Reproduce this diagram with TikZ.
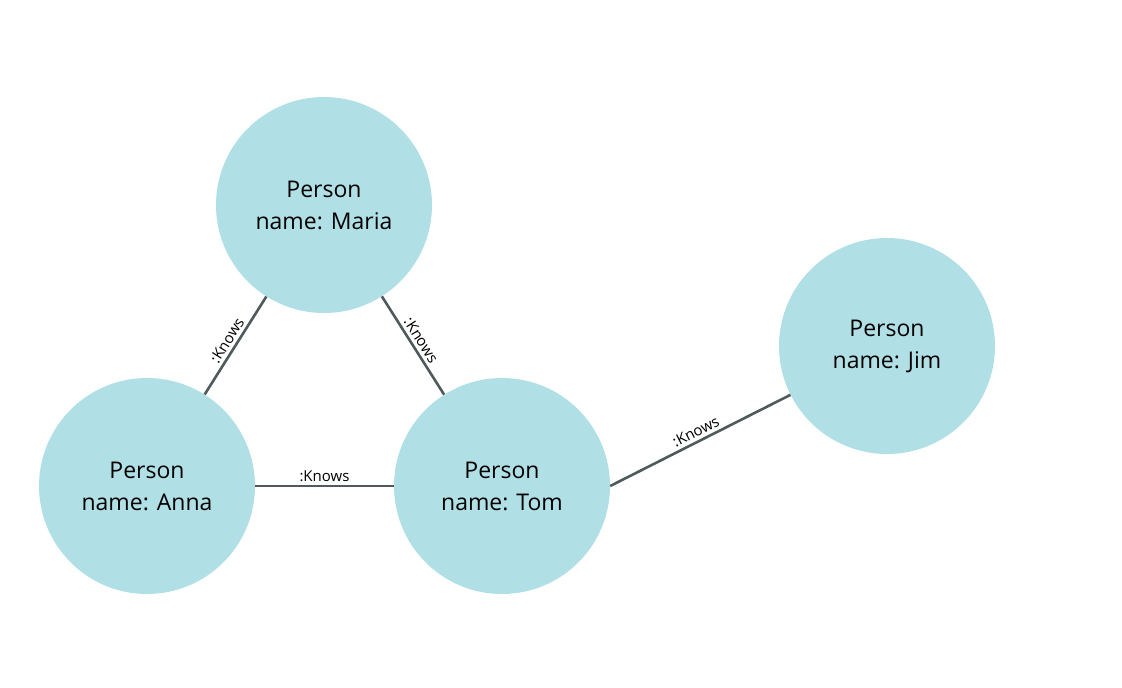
\documentclass[tikz,border=0pt]{standalone}
\usepackage{fontspec}
\setmainfont{Open Sans}
\definecolor{nodefill}{HTML}{B0E0E6}
\definecolor{edgecol}{HTML}{4F5A5C}
\begin{document}
\begin{tikzpicture}[x=1pt,y=-1pt,
  person/.style={circle,fill=nodefill,minimum size=216pt,inner sep=0pt,align=center,font=\fontsize{23}{32}\selectfont},
  rel/.style={draw=edgecol,line width=2.6pt},
  lbl/.style={font=\fontsize{15}{16}\selectfont,sloped,above,midway,inner sep=3pt}]
\useasboundingbox (0,0) rectangle (1122,688);
\node[person] (m) at (324,205) {Person\\name: Maria};
\node[person] (a) at (147,486) {Person\\name: Anna};
\node[person] (t) at (502,486) {Person\\name: Tom};
\node[person] (j) at (887,346) {Person\\name: Jim};
\draw[rel] (a) -- node[lbl]{:Knows} (m);
\draw[rel] (m) -- node[lbl]{:Knows} (t);
\draw[rel] (a) -- node[lbl]{:Knows} (t);
\draw[rel] (t.east) -- node[lbl]{:Knows} (j);
\end{tikzpicture}
\end{document}
